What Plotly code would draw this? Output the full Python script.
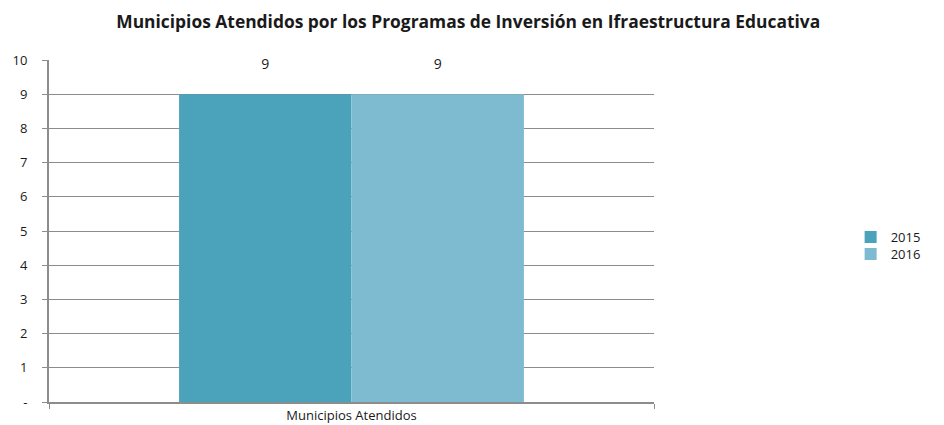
import plotly.graph_objects as go

categories = ["Municipios Atendidos"]
series_names = ["2015", "2016"]
values_2015 = [9]
values_2016 = [9]
colors = ["#4AA2BB", "#7FBBD0"]
y_tickvals = [0, 1, 2, 3, 4, 5, 6, 7, 8, 9, 10]
y_ticktext = ["-", "1", "2", "3", "4", "5", "6", "7", "8", "9", "10"]

fig = go.Figure()
legends = ["legend", "legend2"]
for name, vals, col, lg in zip(series_names, [values_2015, values_2016], colors, legends):
    fig.add_trace(go.Bar(
        x=categories, y=vals, name=name, marker_color=col,
        marker_line_width=0, legend=lg,
        text=[str(v) for v in vals], texttemplate="%{text}<br> ",
        textposition="outside",
        textfont=dict(size=14, color="#1a1a1a"), cliponaxis=False,
    ))

leg_common = dict(xanchor="left", yanchor="middle", font=dict(size=13),
                  itemwidth=30, bgcolor="rgba(0,0,0,0)")
fig.update_layout(
    width=944, height=425,
    margin=dict(l=49, r=290, t=60, b=23, autoexpand=False),
    paper_bgcolor="white", plot_bgcolor="white",
    font=dict(family="Open Sans, Liberation Sans, sans-serif", size=13, color="#1a1a1a"),
    title=dict(text="<b>Municipios Atendidos por los Programas de Inversión en Ifraestructura Educativa</b>",
               x=0.496, xanchor="center", y=0.948, yanchor="middle", automargin=False,
               font=dict(size=17.4, color="#1a1a1a")),
    barmode="group", bargap=0.43, bargroupgap=0,
    legend=dict(x=1.325, y=0.4825, **leg_common),
    legend2=dict(x=1.325, y=0.4327, **leg_common),
    showlegend=True,
)
fig.update_yaxes(range=[0, 10], tickvals=y_tickvals, ticktext=y_ticktext,
                 showgrid=True, gridcolor="#8c8c8c", gridwidth=1,
                 showline=True, linecolor="#8c8c8c", linewidth=2,
                 ticks="outside", ticklen=5, tickcolor="#8c8c8c", automargin=False,
                 zeroline=False, tickfont=dict(size=13), ticklabelstandoff=12)
fig.update_xaxes(showline=True, linecolor="#8c8c8c", linewidth=2, automargin=False,
                 ticks="outside", ticklen=5, tickcolor="#8c8c8c", tickson="boundaries",
                 tickfont=dict(size=13))

fig.write_html("out.html", config={"displayModeBar": False},
               post_script="document.body.style.margin='0';")
